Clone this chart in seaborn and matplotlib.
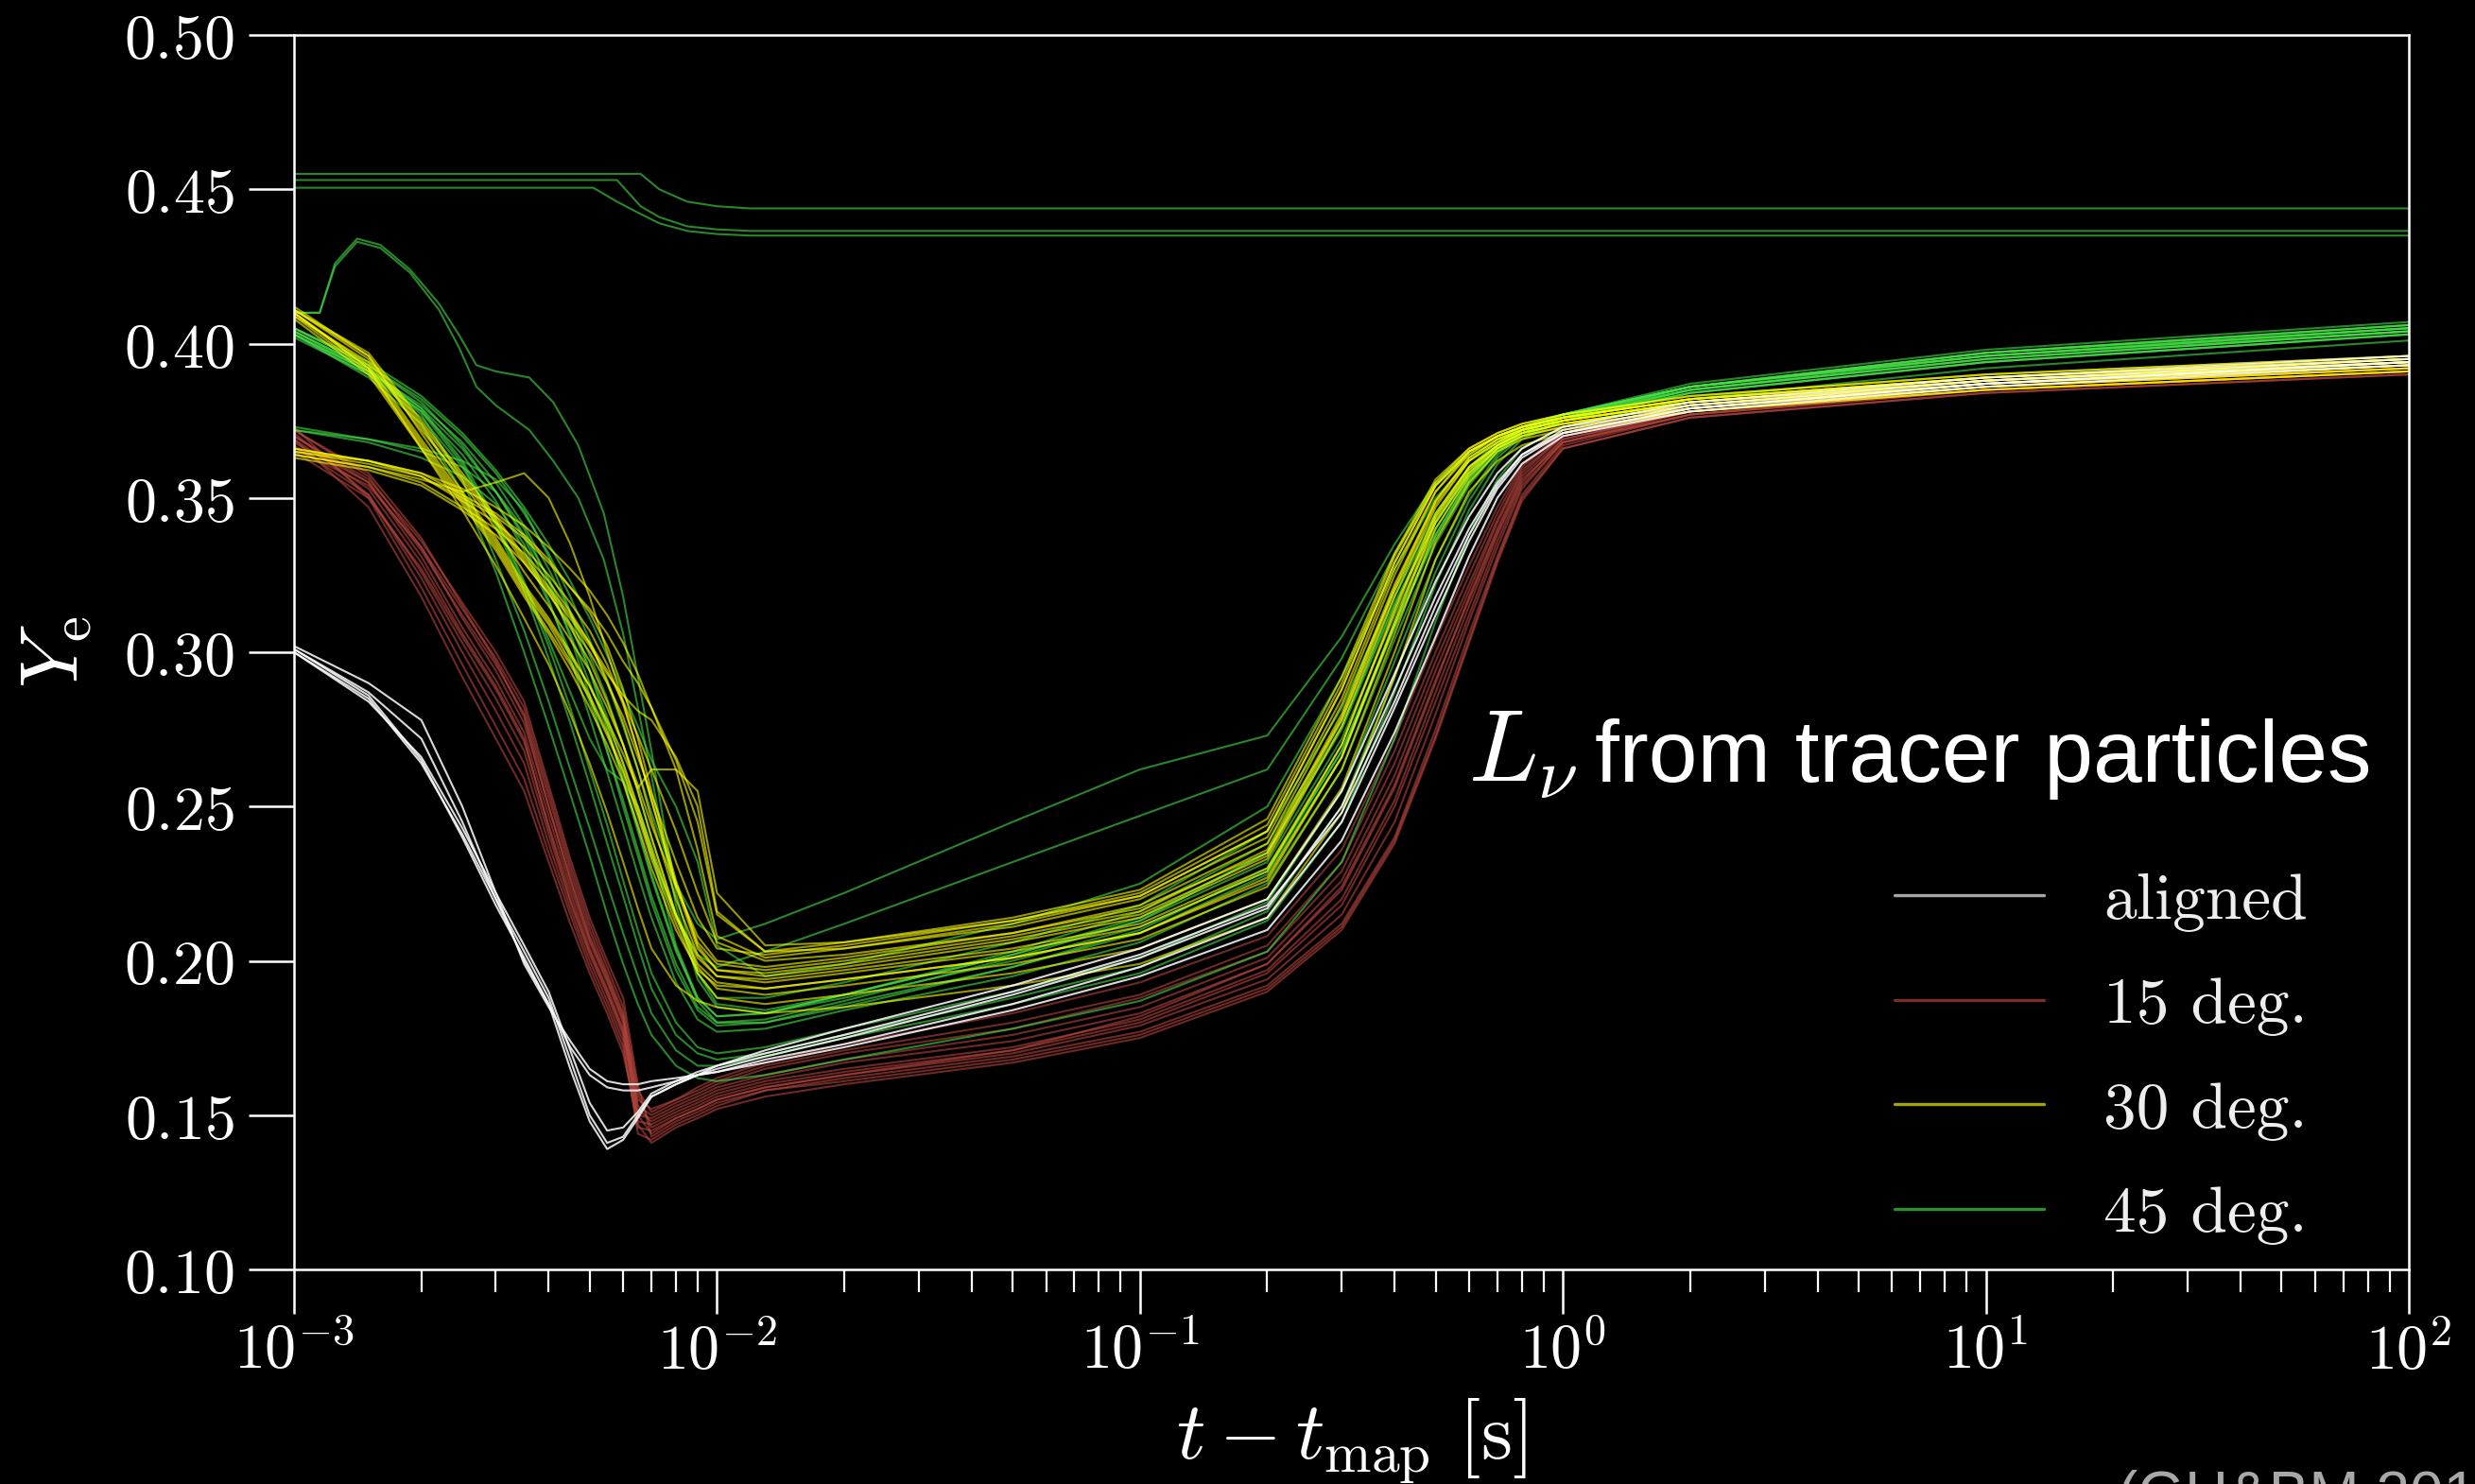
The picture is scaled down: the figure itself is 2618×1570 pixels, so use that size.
import numpy as np
import pandas as pd
import matplotlib
matplotlib.use("Agg")
import matplotlib.pyplot as plt
import seaborn as sns
from matplotlib.lines import Line2D
from matplotlib.ticker import LogLocator, NullFormatter, NullLocator

# ---------------- data ----------------
T_GRID = [1e-3, 1.5e-3, 2e-3, 2.5e-3, 3e-3, 3.5e-3, 4e-3, 4.5e-3, 5e-3, 5.5e-3,
          6e-3, 6.5e-3, 7e-3, 8e-3, 9e-3, 1e-2, 1.3e-2, 2e-2, 5e-2, 0.1,
          0.2, 0.3, 0.4, 0.5, 0.6, 0.7, 0.8, 1.0, 2.0, 10.0, 100.0]

ALIGNED_YE = [
    [0.302, 0.290, 0.278, 0.250, 0.222, 0.199, 0.185, 0.174, 0.165, 0.161, 0.160, 0.160, 0.161, 0.162, 0.163,
     0.164, 0.168, 0.173, 0.186, 0.198, 0.214, 0.245, 0.282, 0.312, 0.336, 0.353, 0.363, 0.371, 0.379, 0.387, 0.394],
    [0.301, 0.287, 0.272, 0.245, 0.220, 0.200, 0.186, 0.172, 0.163, 0.159, 0.158, 0.158, 0.159, 0.161, 0.163,
     0.164, 0.167, 0.172, 0.184, 0.195, 0.210, 0.239, 0.274, 0.305, 0.331, 0.350, 0.361, 0.370, 0.378, 0.386, 0.393],
    [0.301, 0.286, 0.265, 0.240, 0.218, 0.201, 0.186, 0.165, 0.148, 0.139, 0.142, 0.149, 0.156, 0.160, 0.163,
     0.165, 0.169, 0.175, 0.189, 0.201, 0.217, 0.250, 0.288, 0.318, 0.340, 0.355, 0.364, 0.372, 0.380, 0.388, 0.395],
    [0.300, 0.285, 0.264, 0.241, 0.220, 0.203, 0.188, 0.168, 0.150, 0.141, 0.143, 0.150, 0.156, 0.160, 0.163,
     0.166, 0.171, 0.178, 0.192, 0.204, 0.220, 0.255, 0.293, 0.323, 0.344, 0.358, 0.366, 0.373, 0.381, 0.389, 0.396],
    [0.300, 0.284, 0.266, 0.243, 0.222, 0.205, 0.190, 0.171, 0.154, 0.145, 0.146, 0.151, 0.157, 0.161, 0.164,
     0.166, 0.170, 0.176, 0.190, 0.202, 0.218, 0.248, 0.284, 0.315, 0.338, 0.354, 0.364, 0.371, 0.379, 0.387, 0.394],
]

DEG15_YE = [
    [0.369, 0.347, 0.318, 0.292, 0.272, 0.255, 0.232, 0.212, 0.196, 0.183, 0.170, 0.148, 0.147, 0.151, 0.154,
     0.157, 0.161, 0.165, 0.172, 0.181, 0.197, 0.220, 0.252, 0.287, 0.315, 0.338, 0.355, 0.369, 0.378, 0.386, 0.392],
    [0.373, 0.350, 0.321, 0.296, 0.276, 0.259, 0.235, 0.215, 0.198, 0.185, 0.172, 0.146, 0.145, 0.149, 0.152,
     0.155, 0.159, 0.163, 0.170, 0.179, 0.194, 0.215, 0.245, 0.280, 0.310, 0.334, 0.353, 0.368, 0.377, 0.385, 0.391],
    [0.371, 0.351, 0.324, 0.300, 0.281, 0.264, 0.238, 0.217, 0.200, 0.187, 0.174, 0.144, 0.142, 0.147, 0.150,
     0.153, 0.158, 0.162, 0.169, 0.177, 0.192, 0.212, 0.240, 0.275, 0.306, 0.331, 0.351, 0.367, 0.377, 0.385, 0.391],
    [0.367, 0.351, 0.326, 0.303, 0.285, 0.268, 0.241, 0.219, 0.202, 0.189, 0.176, 0.150, 0.149, 0.153, 0.156,
     0.159, 0.163, 0.168, 0.176, 0.185, 0.201, 0.226, 0.260, 0.294, 0.320, 0.342, 0.358, 0.370, 0.379, 0.387, 0.393],
    [0.365, 0.350, 0.327, 0.305, 0.288, 0.271, 0.244, 0.222, 0.204, 0.191, 0.178, 0.155, 0.152, 0.155, 0.158,
     0.161, 0.166, 0.171, 0.180, 0.189, 0.205, 0.232, 0.268, 0.300, 0.325, 0.345, 0.360, 0.371, 0.380, 0.388, 0.394],
    [0.370, 0.355, 0.331, 0.308, 0.291, 0.274, 0.247, 0.224, 0.206, 0.193, 0.180, 0.147, 0.141, 0.146, 0.149,
     0.152, 0.156, 0.160, 0.167, 0.175, 0.190, 0.210, 0.238, 0.272, 0.303, 0.329, 0.349, 0.366, 0.376, 0.384, 0.390],
    [0.372, 0.357, 0.334, 0.311, 0.294, 0.277, 0.250, 0.227, 0.208, 0.195, 0.182, 0.157, 0.146, 0.150, 0.153,
     0.156, 0.160, 0.164, 0.171, 0.180, 0.196, 0.218, 0.250, 0.284, 0.312, 0.336, 0.354, 0.368, 0.378, 0.386, 0.392],
    [0.368, 0.355, 0.333, 0.312, 0.296, 0.280, 0.253, 0.229, 0.210, 0.196, 0.183, 0.153, 0.150, 0.154, 0.157,
     0.160, 0.165, 0.170, 0.178, 0.188, 0.203, 0.229, 0.264, 0.297, 0.322, 0.343, 0.359, 0.370, 0.379, 0.387, 0.393],
    [0.366, 0.354, 0.334, 0.314, 0.298, 0.282, 0.255, 0.231, 0.212, 0.198, 0.185, 0.158, 0.151, 0.155, 0.159,
     0.162, 0.167, 0.173, 0.183, 0.193, 0.208, 0.236, 0.272, 0.304, 0.328, 0.347, 0.361, 0.371, 0.380, 0.388, 0.395],
    [0.370, 0.356, 0.336, 0.316, 0.300, 0.284, 0.257, 0.233, 0.214, 0.200, 0.188, 0.160, 0.143, 0.148, 0.151,
     0.154, 0.158, 0.161, 0.168, 0.176, 0.191, 0.211, 0.239, 0.273, 0.304, 0.330, 0.350, 0.366, 0.376, 0.384, 0.390],
    [0.372, 0.358, 0.337, 0.315, 0.297, 0.279, 0.250, 0.226, 0.207, 0.194, 0.181, 0.152, 0.148, 0.152, 0.155,
     0.158, 0.162, 0.167, 0.174, 0.183, 0.199, 0.223, 0.256, 0.290, 0.318, 0.340, 0.357, 0.369, 0.378, 0.386, 0.392],
    [0.369, 0.353, 0.329, 0.306, 0.289, 0.272, 0.243, 0.220, 0.203, 0.190, 0.177, 0.150, 0.144, 0.149, 0.152,
     0.155, 0.159, 0.163, 0.171, 0.182, 0.199, 0.224, 0.257, 0.291, 0.317, 0.339, 0.356, 0.368, 0.377, 0.385, 0.391],
]

DEG30_YE = [
    [0.411, 0.395, 0.373, 0.355, 0.340, 0.326, 0.315, 0.304, 0.294, 0.282, 0.270, 0.257, 0.244, 0.224, 0.208,
     0.200, 0.198, 0.201, 0.209, 0.218, 0.238, 0.283, 0.325, 0.352, 0.364, 0.370, 0.373, 0.376, 0.382, 0.389, 0.395],
    [0.410, 0.392, 0.368, 0.350, 0.335, 0.320, 0.309, 0.297, 0.286, 0.274, 0.262, 0.248, 0.235, 0.215, 0.201,
     0.195, 0.194, 0.197, 0.204, 0.212, 0.230, 0.270, 0.314, 0.345, 0.360, 0.367, 0.371, 0.374, 0.380, 0.387, 0.393],
    [0.409, 0.394, 0.372, 0.356, 0.342, 0.329, 0.319, 0.309, 0.300, 0.290, 0.279, 0.266, 0.254, 0.232, 0.214,
     0.204, 0.202, 0.205, 0.213, 0.222, 0.244, 0.290, 0.331, 0.355, 0.366, 0.371, 0.374, 0.377, 0.383, 0.390, 0.396],
    [0.412, 0.396, 0.371, 0.352, 0.337, 0.322, 0.311, 0.300, 0.289, 0.277, 0.264, 0.250, 0.237, 0.214, 0.198,
     0.191, 0.189, 0.192, 0.199, 0.207, 0.224, 0.262, 0.306, 0.340, 0.357, 0.366, 0.370, 0.373, 0.379, 0.386, 0.392],
    [0.410, 0.393, 0.369, 0.351, 0.336, 0.321, 0.310, 0.299, 0.289, 0.278, 0.267, 0.256, 0.262, 0.262, 0.255,
     0.222, 0.205, 0.206, 0.213, 0.221, 0.242, 0.288, 0.329, 0.354, 0.365, 0.370, 0.373, 0.376, 0.382, 0.389, 0.395],
    [0.408, 0.390, 0.366, 0.348, 0.333, 0.318, 0.306, 0.294, 0.282, 0.270, 0.258, 0.244, 0.230, 0.210, 0.197,
     0.192, 0.191, 0.194, 0.201, 0.209, 0.227, 0.266, 0.310, 0.343, 0.359, 0.367, 0.371, 0.374, 0.380, 0.387, 0.393],
    [0.411, 0.397, 0.375, 0.358, 0.344, 0.331, 0.321, 0.312, 0.303, 0.294, 0.284, 0.273, 0.262, 0.242, 0.222,
     0.206, 0.200, 0.202, 0.209, 0.217, 0.235, 0.279, 0.321, 0.349, 0.363, 0.369, 0.372, 0.375, 0.381, 0.388, 0.394],
    [0.409, 0.391, 0.367, 0.349, 0.334, 0.319, 0.307, 0.296, 0.285, 0.273, 0.261, 0.247, 0.233, 0.212, 0.196,
     0.188, 0.186, 0.189, 0.196, 0.204, 0.220, 0.256, 0.300, 0.336, 0.355, 0.365, 0.369, 0.372, 0.378, 0.385, 0.391],
    [0.410, 0.392, 0.366, 0.346, 0.328, 0.311, 0.296, 0.280, 0.264, 0.248, 0.232, 0.217, 0.204, 0.192, 0.187,
     0.185, 0.183, 0.185, 0.192, 0.199, 0.214, 0.248, 0.292, 0.330, 0.352, 0.362, 0.367, 0.371, 0.378, 0.385, 0.391],
    [0.411, 0.396, 0.374, 0.357, 0.343, 0.330, 0.320, 0.311, 0.302, 0.293, 0.286, 0.281, 0.278, 0.266, 0.250,
     0.216, 0.203, 0.206, 0.214, 0.223, 0.246, 0.292, 0.332, 0.356, 0.366, 0.371, 0.374, 0.377, 0.383, 0.390, 0.396],
    [0.366, 0.362, 0.358, 0.351, 0.345, 0.338, 0.330, 0.321, 0.313, 0.302, 0.288, 0.272, 0.255, 0.226, 0.205,
     0.197, 0.195, 0.198, 0.206, 0.214, 0.233, 0.276, 0.318, 0.347, 0.362, 0.368, 0.372, 0.375, 0.381, 0.388, 0.394],
    [0.364, 0.360, 0.355, 0.347, 0.340, 0.332, 0.323, 0.313, 0.303, 0.291, 0.277, 0.262, 0.246, 0.220, 0.202,
     0.195, 0.193, 0.196, 0.203, 0.211, 0.229, 0.270, 0.313, 0.344, 0.360, 0.367, 0.371, 0.374, 0.380, 0.387, 0.393],
    [0.365, 0.361, 0.357, 0.350, 0.344, 0.337, 0.329, 0.321, 0.314, 0.306, 0.297, 0.290, 0.282, 0.265, 0.245,
     0.215, 0.203, 0.204, 0.211, 0.220, 0.240, 0.285, 0.327, 0.352, 0.365, 0.370, 0.373, 0.376, 0.382, 0.389, 0.395],
    [0.363, 0.359, 0.354, 0.346, 0.338, 0.329, 0.319, 0.308, 0.297, 0.284, 0.270, 0.255, 0.240, 0.215, 0.199,
     0.193, 0.191, 0.194, 0.201, 0.209, 0.226, 0.266, 0.309, 0.342, 0.358, 0.366, 0.370, 0.373, 0.379, 0.386, 0.392],
    [0.366, 0.362, 0.357, 0.349, 0.342, 0.334, 0.325, 0.316, 0.307, 0.296, 0.283, 0.268, 0.252, 0.225, 0.206,
     0.199, 0.197, 0.200, 0.208, 0.216, 0.236, 0.280, 0.322, 0.349, 0.363, 0.369, 0.372, 0.375, 0.381, 0.388, 0.394],
    [0.364, 0.360, 0.356, 0.352, 0.355, 0.358, 0.350, 0.335, 0.318, 0.300, 0.284, 0.268, 0.252, 0.224, 0.204,
     0.197, 0.196, 0.199, 0.207, 0.215, 0.234, 0.278, 0.320, 0.348, 0.362, 0.368, 0.372, 0.375, 0.381, 0.388, 0.394],
    [0.365, 0.362, 0.358, 0.353, 0.347, 0.341, 0.334, 0.327, 0.320, 0.312, 0.303, 0.293, 0.282, 0.262, 0.236,
     0.208, 0.201, 0.204, 0.212, 0.221, 0.242, 0.288, 0.329, 0.354, 0.365, 0.370, 0.373, 0.376, 0.382, 0.389, 0.395],
]

DEG45_YE = [
    [0.404, 0.392, 0.377, 0.356, 0.330, 0.307, 0.284, 0.262, 0.243, 0.225, 0.209, 0.195, 0.183, 0.171, 0.166,
     0.166, 0.169, 0.175, 0.186, 0.196, 0.213, 0.245, 0.287, 0.322, 0.346, 0.361, 0.369, 0.375, 0.384, 0.394, 0.403],
    [0.403, 0.390, 0.376, 0.360, 0.342, 0.322, 0.302, 0.282, 0.262, 0.244, 0.226, 0.210, 0.196, 0.180, 0.172,
     0.170, 0.172, 0.178, 0.190, 0.201, 0.219, 0.255, 0.297, 0.330, 0.351, 0.364, 0.371, 0.376, 0.385, 0.395, 0.404],
    [0.405, 0.393, 0.381, 0.367, 0.352, 0.337, 0.321, 0.306, 0.290, 0.275, 0.259, 0.243, 0.228, 0.204, 0.187,
     0.180, 0.180, 0.185, 0.198, 0.210, 0.230, 0.268, 0.309, 0.338, 0.356, 0.366, 0.372, 0.377, 0.386, 0.397, 0.406],
    [0.402, 0.390, 0.378, 0.364, 0.349, 0.333, 0.316, 0.300, 0.284, 0.268, 0.252, 0.236, 0.221, 0.199, 0.185,
     0.180, 0.181, 0.187, 0.201, 0.213, 0.235, 0.275, 0.315, 0.342, 0.358, 0.367, 0.373, 0.377, 0.386, 0.396, 0.405],
    [0.404, 0.391, 0.380, 0.368, 0.355, 0.341, 0.327, 0.313, 0.299, 0.285, 0.270, 0.255, 0.240, 0.215, 0.196,
     0.188, 0.188, 0.193, 0.206, 0.218, 0.242, 0.282, 0.320, 0.345, 0.360, 0.368, 0.373, 0.377, 0.385, 0.395, 0.404],
    [0.405, 0.393, 0.382, 0.370, 0.358, 0.345, 0.332, 0.318, 0.304, 0.290, 0.276, 0.262, 0.248, 0.225, 0.212,
     0.207, 0.212, 0.222, 0.245, 0.262, 0.273, 0.305, 0.335, 0.355, 0.365, 0.370, 0.373, 0.377, 0.387, 0.398, 0.407],
    [0.403, 0.391, 0.379, 0.366, 0.352, 0.338, 0.324, 0.309, 0.294, 0.279, 0.264, 0.249, 0.234, 0.214, 0.202,
     0.198, 0.203, 0.212, 0.232, 0.247, 0.262, 0.298, 0.332, 0.354, 0.364, 0.370, 0.373, 0.377, 0.386, 0.397, 0.406],
    [0.403, 0.389, 0.374, 0.352, 0.326, 0.300, 0.276, 0.254, 0.234, 0.215, 0.199, 0.186, 0.176, 0.166, 0.162,
     0.161, 0.163, 0.168, 0.178, 0.187, 0.203, 0.232, 0.272, 0.310, 0.338, 0.356, 0.366, 0.373, 0.382, 0.392, 0.401],
    [0.373, 0.369, 0.365, 0.360, 0.352, 0.340, 0.323, 0.305, 0.286, 0.268, 0.250, 0.234, 0.219, 0.197, 0.184,
     0.179, 0.180, 0.186, 0.198, 0.209, 0.228, 0.266, 0.308, 0.338, 0.356, 0.366, 0.372, 0.376, 0.385, 0.395, 0.404],
    [0.372, 0.368, 0.363, 0.357, 0.348, 0.335, 0.317, 0.298, 0.279, 0.261, 0.244, 0.228, 0.214, 0.193, 0.181,
     0.177, 0.178, 0.184, 0.195, 0.206, 0.225, 0.262, 0.304, 0.335, 0.354, 0.365, 0.371, 0.376, 0.384, 0.394, 0.403],
    [0.404, 0.392, 0.379, 0.362, 0.343, 0.323, 0.304, 0.287, 0.272, 0.262, 0.258, 0.250, 0.236, 0.205, 0.188,
     0.182, 0.183, 0.189, 0.203, 0.216, 0.238, 0.278, 0.318, 0.344, 0.359, 0.367, 0.372, 0.377, 0.386, 0.396, 0.405],
    [0.403, 0.391, 0.378, 0.361, 0.341, 0.320, 0.298, 0.277, 0.257, 0.238, 0.221, 0.205, 0.191, 0.176, 0.170,
     0.168, 0.170, 0.176, 0.188, 0.198, 0.216, 0.250, 0.292, 0.326, 0.349, 0.363, 0.370, 0.375, 0.384, 0.394, 0.403],
    [0.405, 0.394, 0.383, 0.371, 0.359, 0.347, 0.335, 0.323, 0.311, 0.299, 0.287, 0.276, 0.265, 0.250, 0.232,
     0.205, 0.195, 0.199, 0.212, 0.225, 0.250, 0.292, 0.327, 0.350, 0.362, 0.369, 0.373, 0.377, 0.386, 0.397, 0.406],
    [0.372, 0.369, 0.366, 0.362, 0.356, 0.346, 0.331, 0.313, 0.294, 0.276, 0.258, 0.242, 0.227, 0.203, 0.188,
     0.182, 0.183, 0.189, 0.202, 0.214, 0.235, 0.276, 0.316, 0.342, 0.358, 0.367, 0.372, 0.377, 0.386, 0.396, 0.405],
]

# 45 deg. tracers with the early bump
BUMP_T = [1e-3, 1.15e-3, 1.25e-3, 1.41e-3, 1.6e-3, 1.88e-3, 2.2e-3, 2.45e-3, 2.7e-3, 3.0e-3,
          3.6e-3, 4.1e-3, 4.7e-3, 5.4e-3, 6e-3, 7e-3, 8e-3, 9e-3, 1e-2, 1.3e-2,
          2e-2, 5e-2, 0.1, 0.2, 0.3, 0.4, 0.5, 0.6, 0.7, 0.8, 1.0, 2.0, 10.0, 100.0]
BUMP_YE = [
    [0.410, 0.410, 0.426, 0.434, 0.432, 0.424, 0.413, 0.403, 0.393, 0.391, 0.389, 0.381, 0.367, 0.345, 0.318,
     0.268, 0.222, 0.196, 0.186, 0.184, 0.189, 0.202, 0.213, 0.232, 0.272, 0.312, 0.340, 0.357, 0.366, 0.371,
     0.376, 0.386, 0.397, 0.405],
    [0.410, 0.410, 0.425, 0.433, 0.431, 0.423, 0.411, 0.399, 0.386, 0.380, 0.372, 0.362, 0.350, 0.330, 0.306,
     0.260, 0.218, 0.194, 0.185, 0.183, 0.188, 0.200, 0.211, 0.229, 0.268, 0.308, 0.337, 0.355, 0.365, 0.370,
     0.375, 0.385, 0.396, 0.404],
]

# 45 deg. tracers staying at high Ye
HIGH_T = [1e-3, 5.1e-3, 5.8e-3, 6.6e-3, 7.3e-3, 8.5e-3, 1e-2, 1.2e-2, 100.0]
HIGH_YE = [
    [0.455, 0.455, 0.455, 0.455, 0.450, 0.446, 0.4445, 0.4438, 0.4438],
    [0.453, 0.453, 0.453, 0.4445, 0.441, 0.438, 0.437, 0.4365, 0.4365],
    [0.4505, 0.4505, 0.446, 0.442, 0.439, 0.4365, 0.4355, 0.435, 0.435],
]

GROUPS = ["aligned", "15 deg.", "30 deg.", "45 deg."]
COLORS = {"aligned": "#ffffff", "15 deg.": "#b8463e", "30 deg.": "#ffff00", "45 deg.": "#45e045"}
ALPHAS = {"aligned": 0.85, "15 deg.": 0.6, "30 deg.": 0.6, "45 deg.": 0.6}

YTICKS = [0.10, 0.15, 0.20, 0.25, 0.30, 0.35, 0.40, 0.45, 0.50]
YTICK_LABELS = ["$0.10$", "$0.15$", "$0.20$", "$0.25$", "$0.30$", "$0.35$", "$0.40$", "$0.45$", "$0.50$"]
XTICKS = [1e-3, 1e-2, 1e-1, 1e0, 1e1, 1e2]
XTICK_LABELS = [r"$10^{-3}$", r"$10^{-2}$", r"$10^{-1}$", r"$10^{0}$", r"$10^{1}$", r"$10^{2}$"]

# ---------------- long-form table ----------------
rows = []
def add(group, times, curves, tag):
    for k, ye in enumerate(curves):
        for t, y in zip(times, ye):
            rows.append({"group": group, "curve": f"{tag}{k}", "t": t, "Ye": y})

add("aligned", T_GRID, ALIGNED_YE, "a")
add("15 deg.", T_GRID, DEG15_YE, "r")
add("30 deg.", T_GRID, DEG30_YE, "y")
add("45 deg.", T_GRID, DEG45_YE, "g")
add("45 deg.", BUMP_T, BUMP_YE, "gb")
add("45 deg.", HIGH_T, HIGH_YE, "gh")
df = pd.DataFrame(rows)

# ---------------- style ----------------
sns.set_style("dark", rc={"axes.facecolor": "black", "figure.facecolor": "black"})
plt.rcParams["mathtext.fontset"] = "cm"
plt.rcParams["font.family"] = ["DejaVu Sans"]

W, H = 2618, 1570
fig = plt.figure(figsize=(W / 100, H / 100), dpi=100, facecolor="black")
ax = fig.add_axes([311 / W, 1 - 1343 / H, (2548 - 311) / W, (1343 - 37) / H])
ax.set_facecolor("black")
ax.set_xscale("log")

draw_order = ["15 deg.", "45 deg.", "30 deg.", "aligned"]
for g in draw_order:
    sub = df[df["group"] == g]
    sns.lineplot(data=sub, x="t", y="Ye", units="curve", estimator=None, sort=False,
                 color=COLORS[g], alpha=ALPHAS[g], linewidth=1.5, legend=False, ax=ax)

ax.set_xlim(1e-3, 1e2)
ax.set_ylim(0.10, 0.50)
ax.set_xticks(XTICKS, labels=XTICK_LABELS)
ax.set_yticks(YTICKS, labels=YTICK_LABELS)
ax.xaxis.set_minor_locator(LogLocator(base=10, subs=np.arange(2, 10), numticks=100))
ax.xaxis.set_minor_formatter(NullFormatter())
ax.yaxis.set_minor_locator(NullLocator())
ax.grid(False)

for s in ax.spines.values():
    s.set_visible(True)
    s.set_color("white")
    s.set_linewidth(1.8)

ax.tick_params(axis="x", which="major", direction="out", length=33.8, width=1.8, color="white",
               labelcolor="white", labelsize=47.5, pad=6, top=False, bottom=True)
ax.tick_params(axis="x", which="minor", direction="out", length=17.3, width=1.6, color="white",
               top=False, bottom=True)
ax.tick_params(axis="y", which="major", direction="out", length=34.5, width=1.8, color="white",
               labelcolor="white", labelsize=47.5, pad=11, left=True, right=False)

ax.set_xlabel(r"$t - t_{\mathrm{map}}\ [\mathrm{s}]$", fontsize=61, color="white")
ax.xaxis.set_label_coords(0.5, (1343 - 1525) / (1343 - 37))
ax.xaxis.label.set_va("center")
ax.set_ylabel(r"$Y_{\mathrm{e}}$", fontsize=62, color="white")
ax.yaxis.set_label_coords((58 - 311) / (2548 - 311), 0.5)
ax.yaxis.label.set_va("center")

# legend
handles = [Line2D([], [], color=COLORS[g], alpha=0.65, lw=2.4) for g in GROUPS]
leg = ax.legend(handles, GROUPS, loc="upper left", bbox_to_anchor=(2004 / W, 1 - 923 / H),
                bbox_transform=fig.transFigure, frameon=False,
                prop={"family": "cmr10", "size": 50}, handlelength=2.28, handletextpad=0.9,
                labelspacing=0.69, borderpad=0, borderaxespad=0)
for txt in leg.get_texts():
    txt.set_color("#eeeeee")

# annotation
fig.text(1553 / W, 1 - 827 / H, r"$L_{\nu}$", fontsize=78, color="white", ha="left", va="baseline")
fig.text(1687 / W, 1 - 827 / H, "from tracer particles", fontsize=67, color="white",
         family="Liberation Sans", ha="left", va="baseline")
fig.text(2240 / W, 1 - 1555 / H, "(GH&BM 2018)", fontsize=46, color="#a8a8a8",
         family="Liberation Sans", ha="left", va="top")

fig.savefig("out.png", dpi=100, facecolor="black")
